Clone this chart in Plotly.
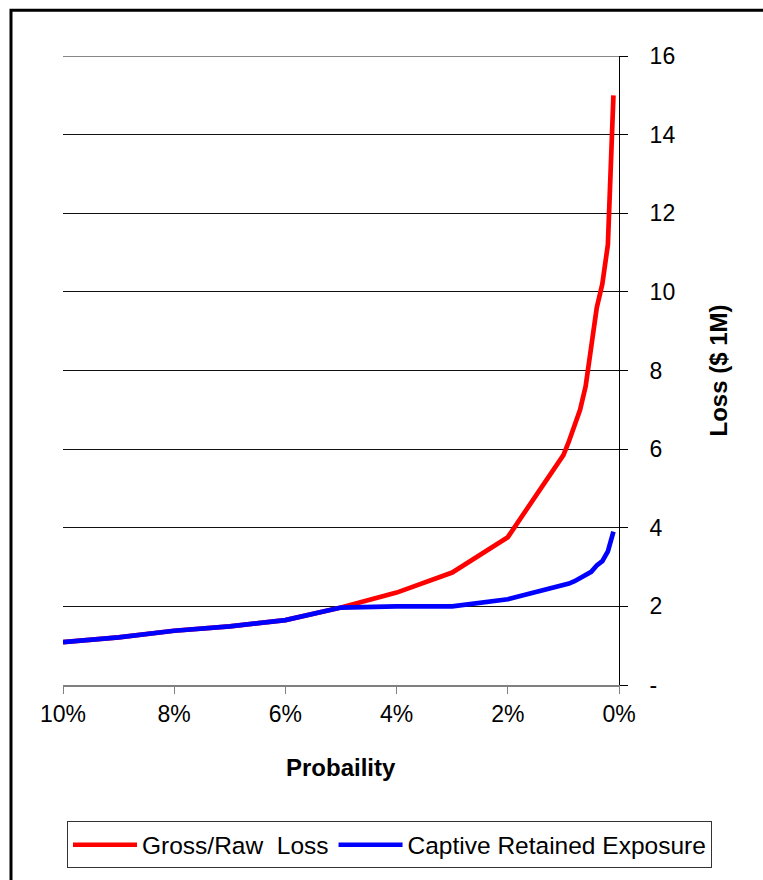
import plotly.graph_objects as go

# Exceedance probability (%) and loss in $ millions
probability = [10, 9, 8, 7, 6, 5, 4, 3, 2, 1, 0.9, 0.8, 0.7, 0.6, 0.5, 0.4, 0.3, 0.2, 0.1]
gross_raw_loss = [1.09, 1.21, 1.38, 1.49, 1.65, 1.97, 2.35, 2.86, 3.76, 5.85,
                  6.2, 6.6, 7.0, 7.6, 8.6, 9.6, 10.2, 11.2, 15.0]
captive_retained = [1.09, 1.21, 1.38, 1.49, 1.65, 1.97, 2.0, 2.0, 2.18, 2.53,
                    2.58, 2.64, 2.72, 2.82, 2.88, 3.04, 3.15, 3.4, 3.9]

x_tick_vals = [10, 8, 6, 4, 2, 0]
x_tick_text = ["10%", "8%", "6%", "4%", "2%", "0%"]
y_tick_vals = [0, 2, 4, 6, 8, 10, 12, 14, 16]
y_tick_text = ["-", "2", "4", "6", "8", "10", "12", "14", "16"]

FONT = "Liberation Sans, Arial, sans-serif"

fig = go.Figure()
fig.add_trace(go.Scatter(x=probability, y=gross_raw_loss, mode="lines",
                         name="Gross/Raw\u00a0 Loss",
                         line=dict(color="#FF0000", width=4.7)))
fig.add_trace(go.Scatter(x=probability, y=captive_retained, mode="lines",
                         name="Captive Retained Exposure",
                         line=dict(color="#0000FF", width=4.7)))

W, H = 763, 880
L, R, T, B = 63, 144, 56, 192
pw, ph = W - L - R, H - T - B


def px_x(p):
    return (p - L) / pw


def px_y(p):
    return (H - B - p) / ph


fig.update_layout(
    width=W, height=H, autosize=False,
    margin=dict(l=L, r=R, t=T, b=B, pad=0),
    paper_bgcolor="white", plot_bgcolor="white",
    font=dict(family=FONT, size=23, color="black"),
    showlegend=True,
    legend=dict(orientation="h", x=px_x(712), y=px_y(825),
                xanchor="right", yanchor="top",
                bordercolor="#333", borderwidth=1,
                font=dict(size=24.5), itemwidth=64,
                bgcolor="white"),
    xaxis=dict(range=[10, 0], tickvals=x_tick_vals, ticktext=x_tick_text,
               showgrid=False, zeroline=False,
               showline=True, linecolor="#808080", linewidth=2,
               ticks="outside", ticklen=7, tickcolor="#808080", tickwidth=1,
               tickfont=dict(size=23)),
    yaxis=dict(range=[0, 16], side="right", tickvals=y_tick_vals, ticktext=y_tick_text,
               showgrid=True, gridcolor="#111", gridwidth=1, zeroline=False,
               showline=True, linecolor="black", linewidth=1,
               ticks="outside", ticklen=8, tickcolor="black", tickwidth=1,
               tickfont=dict(size=23), ticklabelstandoff=17),
    annotations=[
        dict(text="<b>Probaility</b>", xref="paper", yref="paper",
             x=0.5, y=px_y(771), xanchor="center", yanchor="middle",
             showarrow=False, font=dict(size=24)),
        dict(text="<b>Loss ($ 1M)</b>", xref="paper", yref="paper",
             x=px_x(718), y=px_y(372), xanchor="center", yanchor="middle",
             textangle=-90, showarrow=False, font=dict(size=24)),
    ],
    shapes=[
        # gridline at the top of the value range
        dict(type="line", xref="paper", yref="y", x0=0, x1=1, y0=16, y1=16,
             line=dict(color="#111", width=1), layer="below"),
        # outer chart frame
        dict(type="rect", xref="paper", yref="paper",
             x0=px_x(11), x1=px_x(800), y0=px_y(920), y1=px_y(10),
             line=dict(color="black", width=3), fillcolor="rgba(0,0,0,0)",
             layer="above"),
    ],
)

fig.write_html("out.html")
